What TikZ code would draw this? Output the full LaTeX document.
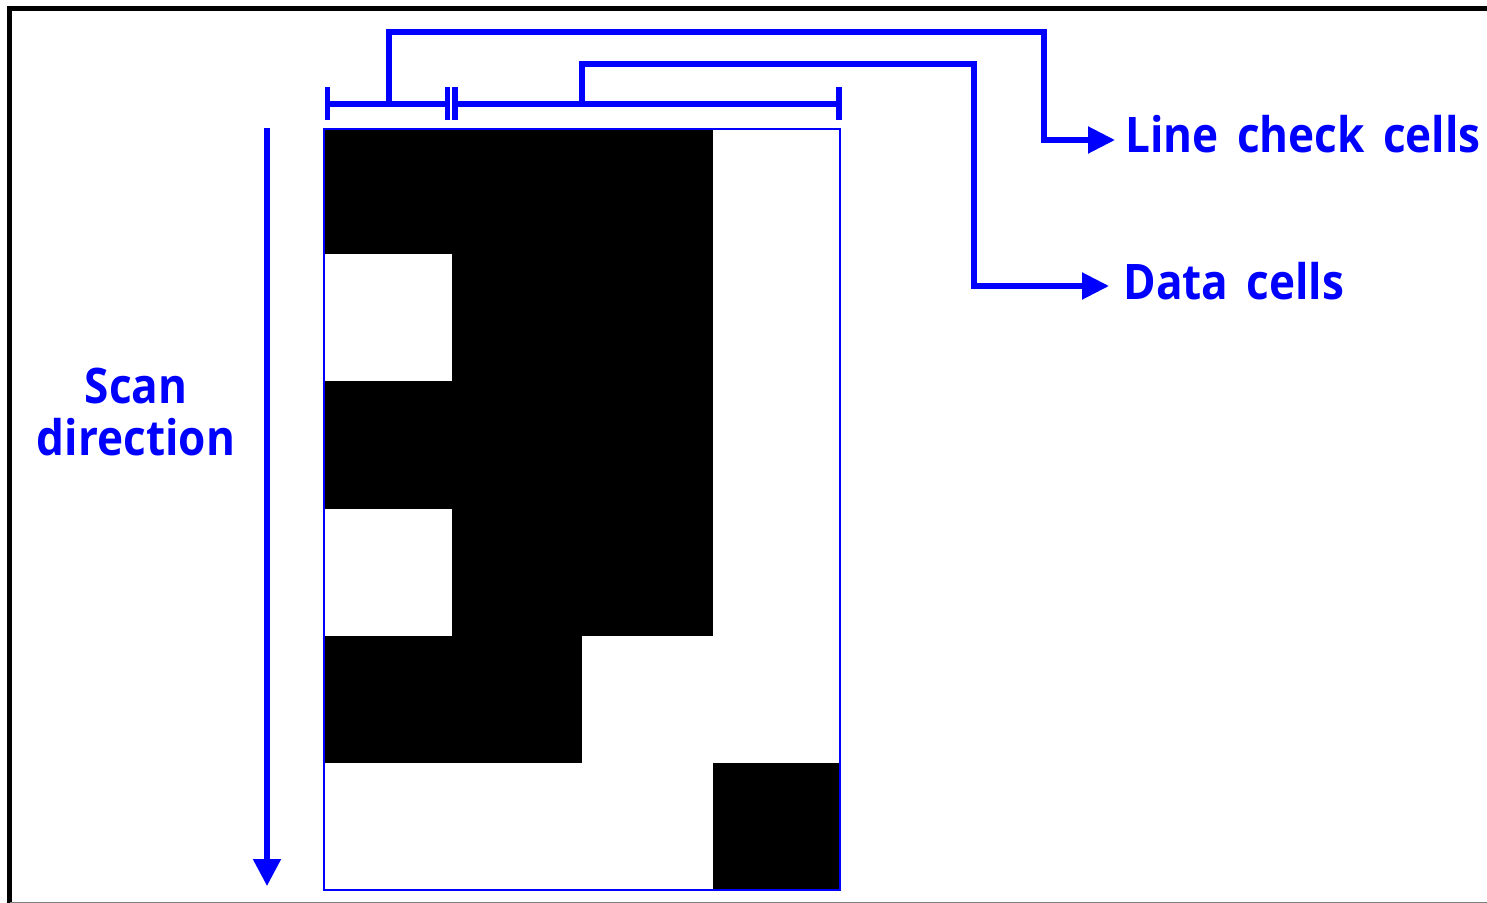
\documentclass[tikz,border=0pt]{standalone}
\usepackage{fontspec}
\setmainfont{Open Sans}[FakeStretch=0.9, WordSpace=1.6]
\usetikzlibrary{arrows.meta}
\definecolor{pblue}{RGB}{0,0,255}
\tikzset{
  conn/.style={draw=pblue, line width=2.6pt},
  tick/.style={draw=pblue, line width=2.6pt},
  arr/.style={conn, -{Triangle[length=13.5pt,width=13pt]}},
  lbl/.style={text=pblue, font=\bfseries\fontsize{24.5}{29}\selectfont, inner sep=0pt},
  cell/.style={fill=black},
}
\begin{document}
\begin{tikzpicture}[x=0.5pt,y=-0.5pt]
\useasboundingbox (0,0) rectangle (1487,903);
% frame
\draw[black, line width=2.6pt] (9.5,903) -- (9.5,8.5) -- (1487,8.5);
\draw[gray, line width=0.6pt] (9.5,902.5) -- (1487,902.5);
% black cells
\fill[cell] (323,128) rectangle (713,254);
\fill[cell] (452,254) rectangle (713,381);
\fill[cell] (323,381) rectangle (713,509);
\fill[cell] (452,509) rectangle (713,636);
\fill[cell] (323,636) rectangle (582,763);
\fill[cell] (713,763) rectangle (839,889);
\node[draw=pblue, line width=0.8pt, minimum width=258pt, minimum height=380.5pt, inner sep=0pt, anchor=north west] (grid) at (323,128) {};
% brackets
\coordinate (b1l) at (327.5,104);
\coordinate (b1r) at (447.5,104);
\coordinate (b2l) at (455,104);
\coordinate (b2r) at (839,104);
\draw[conn] (b1l) -- (b1r);
\draw[conn] (b2l) -- (b2r);
\foreach \p in {b1l,b1r,b2l,b2r} \draw[tick] ([yshift=8.5pt]\p) -- ([yshift=-8pt]\p);
% labels
\node[lbl, anchor=base west] (lcc) at (1125,153) {Line check cells};
\node[lbl, anchor=base west] (dc) at (1123,300) {Data cells};
\node[lbl, align=center] (scan) at (136,412) {Scan\\[-3pt]direction};
% connectors
\coordinate (lcs) at (389,104);
\coordinate (dcs) at (582,104);
\draw[arr] (lcs) |- (1044,32) |- ([xshift=-5pt]lcc.west |- 0,140);
\draw[arr] (dcs) |- (974,64) |- ([xshift=-7pt]dc.west |- 0,286);
% scan arrow
\coordinate (s0) at (267,128);
\coordinate (s1) at (267,886);
\draw[conn, -{Triangle[length=13.5pt,width=13.5pt]}] (s0) -- (s1);
\end{tikzpicture}
\end{document}
